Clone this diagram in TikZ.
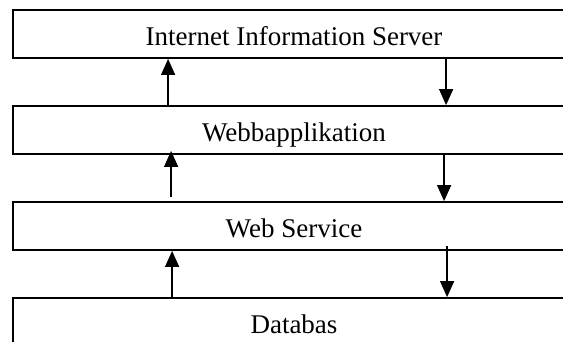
\documentclass[tikz,border=0pt]{standalone}
\usepackage{fontspec}
\setmainfont{Liberation Serif}
\usetikzlibrary{arrows.meta}
\tikzset{
  layerbox/.style={draw, line width=1.8pt, minimum width=562pt, minimum height=48pt,
    inner sep=0pt, text height=23pt, text depth=0pt,
    font=\fontsize{27}{32}\selectfont},
  flowarrow/.style={line width=1.3pt, -{Triangle[length=16pt,width=14pt]}}
}
\begin{document}
\begin{tikzpicture}[x=1pt,y=-1pt]
\clip (0,0) rectangle (563,341);
\fill[white] (0,0) rectangle (563,341);
\node[layerbox] (iis) at (294,34) {Internet Information Server};
\node[layerbox] (wa) at (294,130) {Webbapplikation};
\node[layerbox] (ws) at (294,226) {Web Service};
\node[layerbox] (db) at (294,322) {Databas};
% up arrows
\draw[flowarrow] ([xshift=156pt]wa.north west) -- ([xshift=156pt]iis.south west);
\draw[flowarrow] ([xshift=159pt,yshift=4pt]ws.north west) -- ([xshift=159pt,yshift=4pt]wa.south west);
\draw[flowarrow] ([xshift=160pt]db.north west) -- ([xshift=160pt]ws.south west);
% down arrows
\draw[flowarrow] ([xshift=434pt]iis.south west) -- ([xshift=434pt]wa.north west);
\draw[flowarrow] ([xshift=432pt]wa.south west) -- ([xshift=432pt]ws.north west);
\draw[flowarrow] ([xshift=435pt,yshift=5pt]ws.south west) -- ([xshift=435pt]db.north west);
\end{tikzpicture}
\end{document}
